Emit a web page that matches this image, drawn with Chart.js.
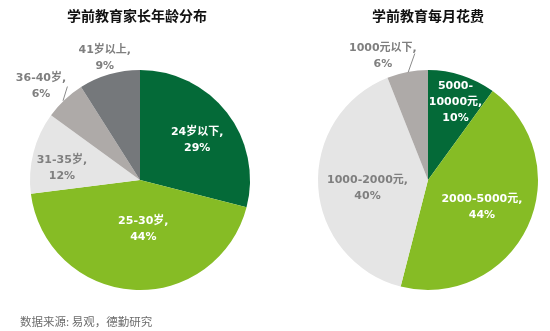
<!DOCTYPE html>
<html>
<head>
<meta charset="utf-8">
<script src="https://cdn.jsdelivr.net/npm/chart.js@4.4.1/dist/chart.umd.min.js"></script>
<style>
  body { margin: 0; background: #fff; }
  #wrap { position: relative; width: 550px; height: 331px; overflow: hidden; font-family: "DejaVu Sans", "Noto Sans CJK SC", sans-serif; }
  .box { position: absolute; top: 0; width: 275px; height: 331px; }
  .title { position: absolute; top: 5px; font-size: 14px; font-weight: bold; color: #111; text-align: center; width: 200px; }
  #source { position: absolute; left: 20px; top: 313px; font-size: 11.5px; color: #6d6d6d; font-family: "Noto Sans CJK SC", sans-serif; }
</style>
</head>
<body>
<div id="wrap">
  <div class="box" style="left:0"><canvas id="ageChart" width="275" height="331"></canvas></div>
  <div class="box" style="left:275px"><canvas id="costChart" width="275" height="331"></canvas></div>
  <div class="title" style="left:37px">学前教育家长年龄分布</div>
  <div class="title" style="left:328px">学前教育每月花费</div>
  <div id="source">数据来源: 易观，德勤研究</div>
</div>
<script>
// 家长年龄分布
const ageLabels = ['24岁以下', '25-30岁', '31-35岁', '36-40岁', '41岁以上'];
const ageValues = [29, 44, 12, 6, 9];

// 每月花费
const costLabels = ['5000-10000元', '2000-5000元', '1000-2000元', '1000元以下'];
const costValues = [10, 44, 40, 6];

const dkGreen = '#046a38';
const ltGreen = '#86bc25';
const ltGray = '#e5e5e5';
const mdGray = '#aeaaa8';
const dkGray = '#75787b';

// texto dos rótulos (linhas) e posição relativa ao centro, em frações do raio
const ageText = [['24岁以下,', '29%'], ['25-30岁,', '44%'], ['31-35岁,', '12%'], ['36-40岁,', '6%'], ['41岁以上,', '9%']];
const agePos = [[0.52, -0.36], [0.03, 0.45], [-0.71, -0.11], [-0.90, -0.85], [-0.32, -1.11]];
const ageLeader = [null, null, null, [[-0.66, -0.85], [-0.70, -0.72]], null];

const costText = [['5000-', '10000元,', '10%'], ['2000-5000元,', '44%'], ['1000-2000元,', '40%'], ['1000元以下,', '6%']];
const costPos = [[0.25, -0.71], [0.49, 0.25], [-0.55, 0.07], [-0.41, -1.13]];
const costLeader = [null, null, null, [[-0.12, -1.15], [-0.18, -0.98]]];

const sliceLabels = {
  id: 'sliceLabels',
  afterDatasetsDraw(chart, args, opts) {
    const ctx = chart.ctx;
    const arcs = chart.getDatasetMeta(0).data;
    ctx.save();
    ctx.font = 'bold 11px "DejaVu Sans", "Noto Sans CJK SC", sans-serif';
    ctx.textAlign = 'center';
    ctx.textBaseline = 'middle';
    arcs.forEach((arc, i) => {
      const { x, y, outerRadius } = arc.getProps(['x', 'y', 'outerRadius'], true);
      const lines = opts.text[i];
      const px = x + opts.pos[i][0] * outerRadius;
      const py = y + opts.pos[i][1] * outerRadius;
      const lh = 16;
      ctx.fillStyle = opts.colors[i];
      lines.forEach((t, k) => {
        ctx.fillText(t, px, py + (k - (lines.length - 1) / 2) * lh);
      });
      const ld = opts.leader[i];
      if (ld) {
        ctx.strokeStyle = '#8a8a8a';
        ctx.lineWidth = 1;
        ctx.beginPath();
        ctx.moveTo(x + ld[0][0] * outerRadius, y + ld[0][1] * outerRadius);
        ctx.lineTo(x + ld[1][0] * outerRadius, y + ld[1][1] * outerRadius);
        ctx.stroke();
      }
    });
    ctx.restore();
  }
};

function makePie(id, labels, values, colors, textColors, text, pos, leader, padding) {
  return new Chart(document.getElementById(id), {
    type: 'pie',
    data: {
      labels: labels,
      datasets: [{
        data: values,
        backgroundColor: colors,
        borderWidth: 0
      }]
    },
    options: {
      responsive: false,
      animation: false,
      layout: { padding: padding },
      plugins: {
        legend: { display: false },
        tooltip: { enabled: false },
        sliceLabels: { text: text, pos: pos, leader: leader, colors: textColors }
      }
    },
    plugins: [sliceLabels]
  });
}

makePie('ageChart', ageLabels, ageValues,
  [dkGreen, ltGreen, ltGray, mdGray, dkGray],
  ['#fff', '#fff', '#7f7f7f', '#7f7f7f', '#7f7f7f'],
  ageText, agePos, ageLeader,
  { left: 30, right: 25, top: 70, bottom: 41 });

makePie('costChart', costLabels, costValues,
  [dkGreen, ltGreen, ltGray, mdGray],
  ['#fff', '#fff', '#7f7f7f', '#7f7f7f'],
  costText, costPos, costLeader,
  { left: 43, right: 12, top: 70, bottom: 41 });
</script>
</body>
</html>
